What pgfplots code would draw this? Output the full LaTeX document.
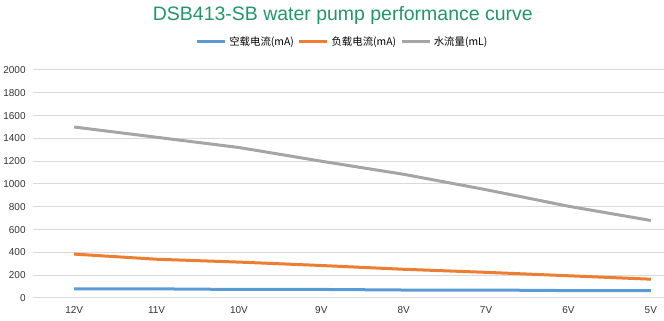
\documentclass[border=0pt]{standalone}
\usepackage{pgfplots}
\pgfplotsset{compat=1.18}
\usepackage{fontspec}
\setmainfont{Liberation Sans}
\newfontfamily\cjk{Noto Sans CJK SC}
\definecolor{xblue}{HTML}{5B9BD5}
\definecolor{xorange}{HTML}{ED7D31}
\definecolor{xgray}{HTML}{A5A5A5}
\definecolor{xtitle}{RGB}{35,150,105}
\definecolor{xgrid}{HTML}{D9D9D9}
\begin{document}
\begin{tikzpicture}[x=0.75pt,y=0.75pt]
\useasboundingbox (-33,-23) rectangle (631,298);
\begin{axis}[
  at={(0,0)}, anchor=south west,
  scale only axis, width=631*0.75pt, height=228*0.75pt,
  xmin=-0.5, xmax=7.16, ymin=0, ymax=2000,
  xtick={0,...,7}, xticklabels={12V,11V,10V,9V,8V,7V,6V,5V},
  ytick={0,200,...,2000},
  ymajorgrids, grid style={xgrid, line width=0.75pt},
  axis line style={draw=none}, major tick length=0pt,
  tick label style={font=\fontsize{7.5}{9}\selectfont, text=black!80},
  /pgf/number format/assume math mode=true,
  /pgf/number format/set thousands separator={},
  xticklabel style={yshift=-3pt},
  yticklabel style={xshift=-2pt},
  clip=false,
  legend columns=3,
  legend style={at={(rel axis cs:0.491,1.123)}, anchor=center, draw=none, fill=none,
    font=\cjk\fontsize{7.8}{9}\selectfont, /tikz/every even column/.append style={column sep=1pt},
    /tikz/every odd column/.append style={column sep=0pt}},
  legend image code/.code={\draw[#1, line width=2.25pt] (0pt,0pt) -- (21pt,0pt);},
]
\addplot[xblue, line width=2.25pt] coordinates {(0,80)(1,80)(2,75)(3,75)(4,70)(5,70)(6,65)(7,65)};
\addlegendentry{空载电流(mA)}
\addplot[xorange, line width=2.25pt] coordinates {(0,385)(1,340)(2,315)(3,285)(4,252)(5,225)(6,195)(7,165)};
\addlegendentry{负载电流(mA)}
\addplot[xgray, line width=2.25pt] coordinates {(0,1500)(1,1410)(2,1320)(3,1200)(4,1085)(5,950)(6,805)(7,680)};
\addlegendentry{水流量(mL)}
\node[font=\fontsize{14.6}{16}\selectfont, text=xtitle] at (rel axis cs:0.491,1.24) {DSB413-SB water pump performance curve};
\end{axis}
\end{tikzpicture}
\end{document}
